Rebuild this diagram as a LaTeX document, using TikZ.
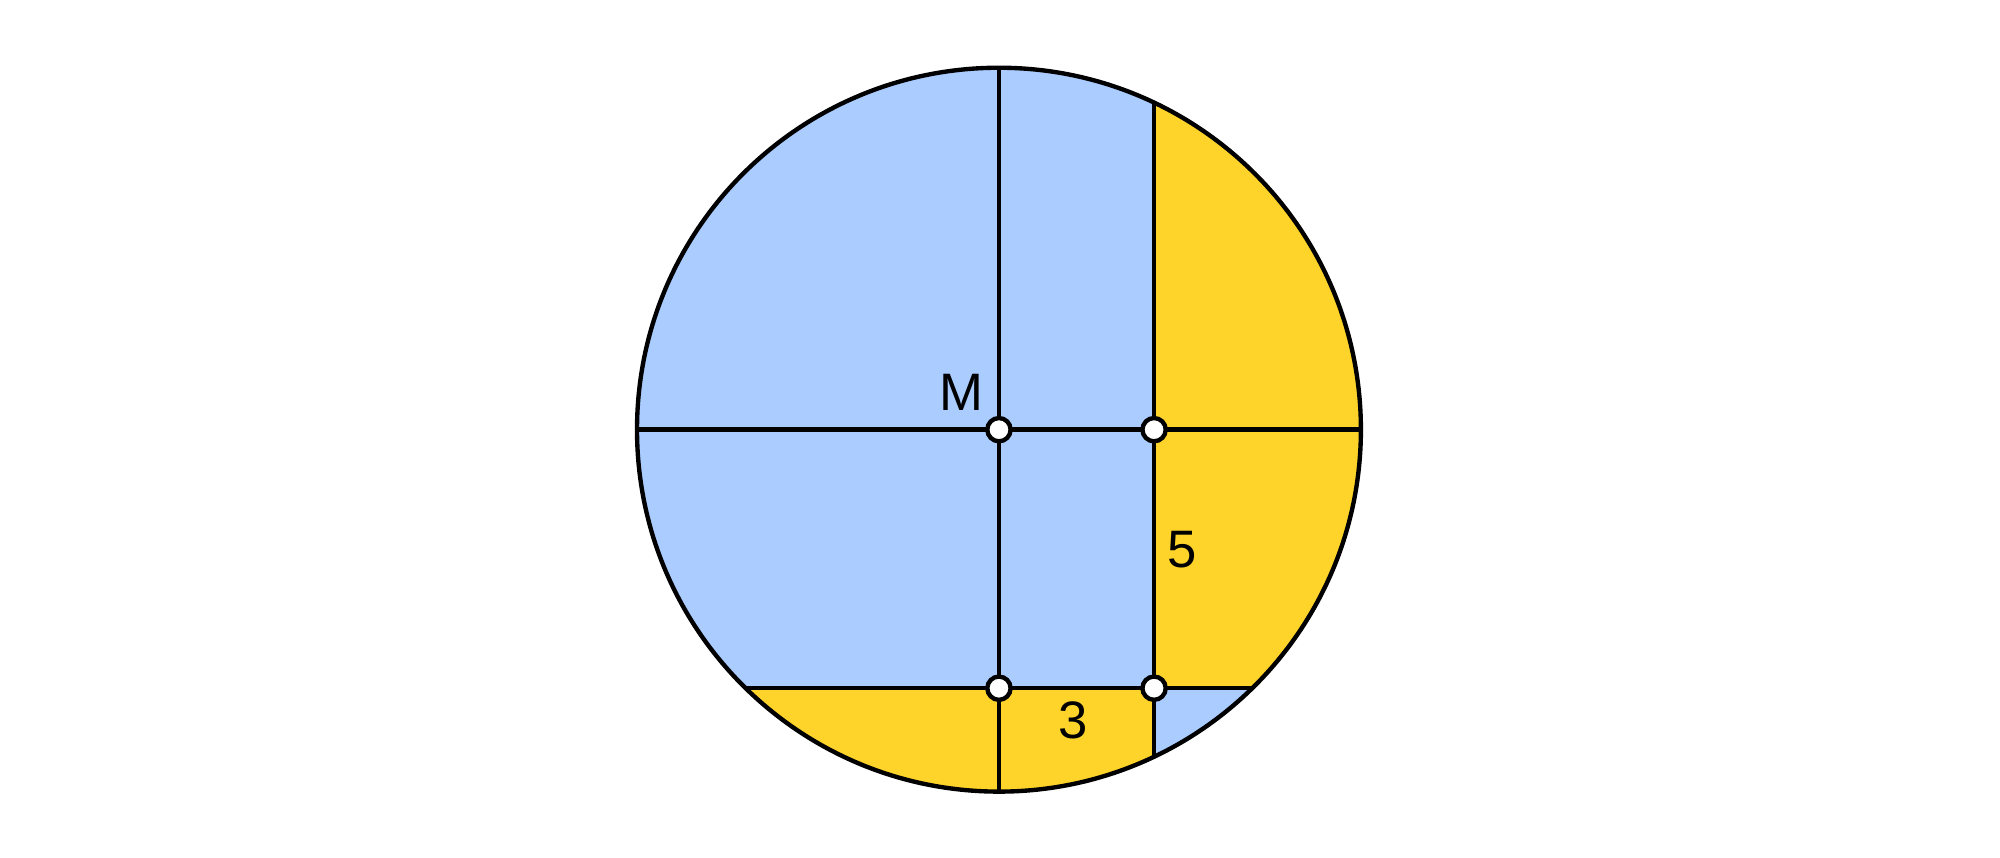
\documentclass[tikz,border=0pt]{standalone}
\usepackage{fontspec}
\setmainfont{Liberation Sans}
\usetikzlibrary{scopes}

\begin{document}
\begin{tikzpicture}[line width=2.4pt,
	dot/.style={circle,fill=white,draw=black,line width=2.4pt,inner sep=0pt,minimum size=0.45cm},
	lbl/.style={font=\fontsize{29}{34}\selectfont}]

\definecolor{skyblue}{RGB}{170,204,255}
\definecolor{gold}{RGB}{255,212,42}

\useasboundingbox (-19.32,-8.27) rectangle (19.36,8.31);

%points
\coordinate (M) at (0,0);
\coordinate (A) at (3,0);
\coordinate (B) at (0,-5);
\coordinate (C) at (3,-5);

%ends of the chords
\coordinate (v1t) at (0,7);
\coordinate (v1b) at (0,-7);
\coordinate (v2t) at (3,{sqrt(40)});
\coordinate (v2b) at (3,{-sqrt(40)});
\coordinate (h1l) at (-7,0);
\coordinate (h1r) at (7,0);
\coordinate (h2l) at ({-sqrt(24)},-5);
\coordinate (h2r) at ({sqrt(24)},-5);

%fill the disc
\fill [skyblue] (M) circle (7cm);

\begin{scope}
	\clip (M) circle (7cm);
	{[fill=gold]
		\fill (C) rectangle (8,8);
		\fill (-8,-8) rectangle (C);
	}
\end{scope}

%draw chords
{[draw=black]
	\draw (v1t)--(v1b);
	\draw (v2t)--(v2b);
	\draw (h1l)--(h1r);
	\draw (h2l)--(h2r);
	\draw (M) circle (7cm);
}

%draw points
\node [dot] (pM) at (M) {};
\node [dot] (pA) at (A) {};
\node [dot] (pB) at (B) {};
\node [dot] (pC) at (C) {};

%labels
\node [lbl] (lM) at (-0.72,0.72) {M};
\node [lbl] (l5) at (3.55,-2.32) {5};
\node [lbl] (l3) at (1.44,-5.62) {3};

\end{tikzpicture}
\end{document}
